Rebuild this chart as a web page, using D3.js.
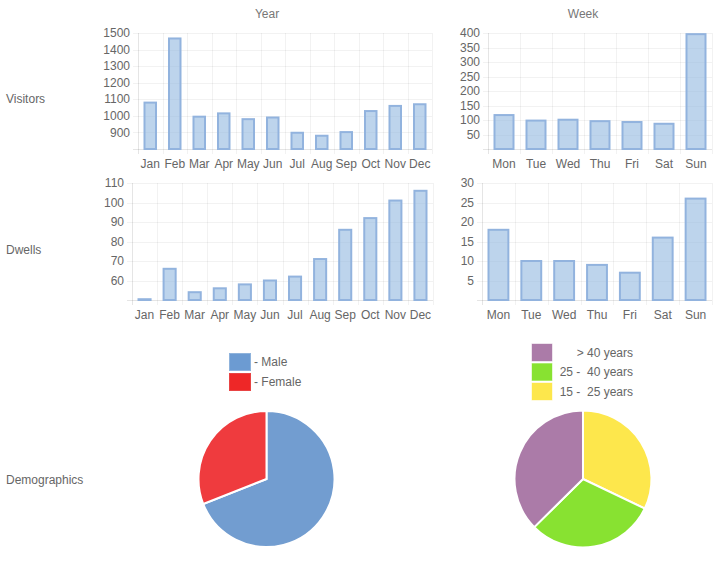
<!DOCTYPE html>
<html><head><meta charset="utf-8">
<script src="https://cdn.jsdelivr.net/npm/d3@7"></script>
<style>
body{margin:0;background:#fff;}
svg{display:block;font-family:"Liberation Sans",Arial,sans-serif;}
</style></head>
<body>
<svg id="c" width="723" height="561"></svg>
<script>
const months = ["Jan","Feb","Mar","Apr","May","Jun","Jul","Aug","Sep","Oct","Nov","Dec"];
const weekdays = ["Mon","Tue","Wed","Thu","Fri","Sat","Sun"];
const visitorsYear = [1080,1467,995,1015,980,990,898,880,902,1029,1060,1070];
const visitorsWeek = [117,98,101,96,93,87,396];
const dwellsYear = [50.4,66,54,56,58,60,62,71,86,92,101,106];
const dwellsWeek = [18,10,10,9,7,16,26];
const visitorsYearTicks = [900,1000,1100,1200,1300,1400,1500];
const visitorsWeekTicks = [50,100,150,200,250,300,350,400];
const dwellsYearTicks = [60,70,80,90,100,110];
const dwellsWeekTicks = [5,10,15,20,25,30];
const genderLabels = ["- Male","- Female"];
const genderValues = [69,31];
const genderColors = ["#729dd0","#ef3b3e"];
const genderLegendColors = ["#6c9bd2","#ee2727"];
const ageLabels = ["15 -  25 years","25 -  40 years","> 40 years"];
const ageValues = [32.1,30.5,37.4];
const ageColors = ["#fde74c","#88e231","#ab7ba8"];
const rowLabels = ["Visitors","Dwells","Demographics"];
const colTitles = ["Year","Week"];

const svg = d3.select("#c");
const txt = "#666";

function barChart(cfg){
  const {cats, vals, ticks, domain, left, right, top, bottom} = cfg;
  const g = svg.append("g");
  const x = d3.scaleBand().domain(cats).range([left,right]);
  const y = d3.scaleLinear().domain(domain).range([bottom,top]);
  g.selectAll(".hg").data(ticks).join("line")
    .attr("x1",left-5).attr("x2",right).attr("y1",d=>Math.round(y(d))+0.5).attr("y2",d=>Math.round(y(d))+0.5)
    .attr("stroke","rgba(0,0,0,0.05)");
  const vx = cats.map(c=>x(c)).concat([right]);
  g.selectAll(".vg").data(vx.slice(1)).join("line")
    .attr("x1",d=>Math.round(d)+0.5).attr("x2",d=>Math.round(d)+0.5).attr("y1",top).attr("y2",bottom+5)
    .attr("stroke","rgba(0,0,0,0.05)");
  g.append("line").attr("x1",Math.round(left)+0.5).attr("x2",Math.round(left)+0.5).attr("y1",top).attr("y2",bottom+5).attr("stroke","rgba(0,0,0,0.1)");
  g.append("line").attr("x1",left-5).attr("x2",right).attr("y1",Math.round(bottom)+0.5).attr("y2",Math.round(bottom)+0.5).attr("stroke","rgba(0,0,0,0.1)");
  g.selectAll(".yl").data(ticks).join("text")
    .attr("x",left-8).attr("y",d=>y(d)).attr("dy","0.35em").attr("text-anchor","end")
    .attr("font-size",12).attr("fill",txt).text(d=>d);
  g.selectAll(".xl").data(cats).join("text")
    .attr("x",d=>x(d)+x.bandwidth()/2).attr("y",bottom+15).attr("dy","0.35em").attr("text-anchor","middle")
    .attr("font-size",12).attr("fill",txt).text(d=>d);
  const bw = x.bandwidth();
  g.selectAll(".bar").data(vals).join("rect")
    .attr("x",(d,i)=>x(cats[i])+6.5).attr("width",bw-13)
    .attr("y",d=>y(d)).attr("height",d=>Math.max(0,bottom-y(d)))
    .attr("fill","rgba(151,187,226,0.64)").attr("stroke","#92b3de").attr("stroke-width",2);
}

barChart({cats:months, vals:visitorsYear, ticks:visitorsYearTicks, domain:[800,1500], left:138, right:432, top:33, bottom:149});
barChart({cats:weekdays, vals:visitorsWeek, ticks:visitorsWeekTicks, domain:[0,400], left:488, right:712, top:33, bottom:149});
barChart({cats:months, vals:dwellsYear, ticks:dwellsYearTicks, domain:[50,110], left:132, right:433, top:183, bottom:300});
barChart({cats:weekdays, vals:dwellsWeek, ticks:dwellsWeekTicks, domain:[0,30], left:482, right:712, top:183, bottom:300});

svg.selectAll(".title").data(colTitles).join("text")
  .attr("x",(d,i)=>[267,583][i]).attr("y",14).attr("dy","0.35em").attr("text-anchor","middle")
  .attr("font-size",12).attr("fill","#777").text(d=>d);
svg.selectAll(".row").data(rowLabels).join("text")
  .attr("x",6).attr("y",(d,i)=>[99,250,480][i]).attr("dy","0.35em")
  .attr("font-size",12).attr("fill","#666").text(d=>d);

function pie(cfg){
  const {vals, colors, cx, cy, r} = cfg;
  const arcs = d3.pie().sort(null).value(d=>d)(vals);
  const arc = d3.arc().innerRadius(0).outerRadius(r);
  svg.append("g").attr("transform",`translate(${cx},${cy})`)
    .selectAll("path").data(arcs).join("path")
    .attr("d",arc).attr("fill",(d,i)=>colors[i]).attr("stroke","#fff").attr("stroke-width",2);
}
pie({vals:genderValues, colors:genderColors, cx:266.5, cy:479, r:68});
pie({vals:ageValues, colors:ageColors, cx:583, cy:479, r:68.5});

const gl = svg.append("g");
gl.selectAll("rect").data(genderLabels).join("rect")
  .attr("x",229.5).attr("y",(d,i)=>353.5+i*20).attr("width",21).attr("height",17)
  .attr("fill",(d,i)=>genderLegendColors[i]).attr("stroke",(d,i)=>i?"#e84444":"#8fb3dc").attr("stroke-width",1);
gl.selectAll("text").data(genderLabels).join("text")
  .attr("x",254).attr("y",(d,i)=>362+i*20).attr("dy","0.35em")
  .attr("font-size",12).attr("fill",txt).text(d=>d);

const ageOrder = [2,1,0];
const al = svg.append("g");
al.selectAll("rect").data(ageOrder).join("rect")
  .attr("x",531.5).attr("y",(d,k)=>343.5+k*19.5).attr("width",21).attr("height",18)
  .attr("fill",d=>ageColors[d]).attr("stroke","rgba(255,255,255,0.6)").attr("stroke-width",1);
al.selectAll("text").data(ageOrder).join("text")
  .attr("x",633).attr("y",(d,k)=>352.5+k*19.5).attr("dy","0.35em").attr("text-anchor","end")
  .attr("font-size",12).attr("fill",txt).attr("xml:space","preserve").style("white-space","pre").text(d=>ageLabels[d]);
</script>
</body></html>
